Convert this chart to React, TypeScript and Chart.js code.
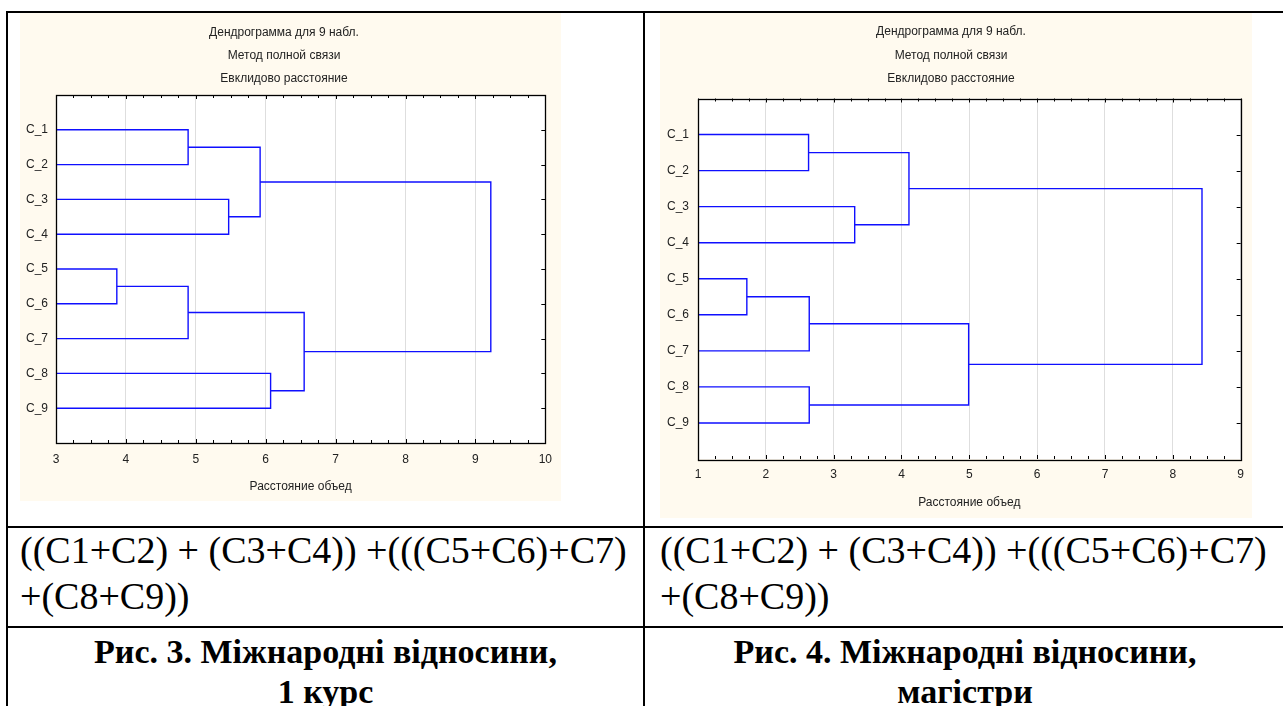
import React, { useEffect, useRef } from 'react';
import { Chart, registerables } from 'chart.js';

Chart.register(...registerables);

// ---------- data ----------
const leafLabels = ['C_1', 'C_2', 'C_3', 'C_4', 'C_5', 'C_6', 'C_7', 'C_8', 'C_9'];
const titleLines = ['Дендрограмма для 9 набл.', 'Метод полной связи', 'Евклидово расстояние'];
const xAxisTitle = 'Расстояние объед';

// node ids: 0..8 = leaves C_1..C_9, 9.. = merges in order
const leftChildA = [4, 0, 9, 2, 10, 7, 11, 13];
const leftChildB = [5, 1, 6, 3, 12, 8, 14, 15];
const leftHeights = [3.87, 4.89, 4.89, 5.47, 5.92, 6.07, 6.55, 9.22];
const leftXRange = [3, 10];

const rightChildA = [4, 0, 9, 7, 2, 10, 11, 14];
const rightChildB = [5, 1, 6, 8, 3, 13, 12, 15];
const rightHeights = [1.72, 2.63, 2.64, 2.64, 3.31, 4.11, 4.99, 8.43];
const rightXRange = [1, 9];

const formulaLine1 = '((C1+C2) + (C3+C4)) +(((C5+C6)+C7)';
const formulaLine2 = '+(C8+C9))';
const captionLeft = ['Рис. 3. Міжнародні відносини,', '1 курс'];
const captionRight = ['Рис. 4. Міжнародні відносини,', 'магістри'];

// ---------- helpers ----------
const CREAM = '#FFFAEF';
const LINE = '#0f0fff';
const TXT = '#222222';
const FONT = "'Liberation Sans', Arial, sans-serif";

function buildLinks(childA: number[], childB: number[], heights: number[], base: number) {
  const pos: number[] = leafLabels.map((_, i) => i + 1);
  const hgt: number[] = leafLabels.map(() => base);
  return heights.map((h, j) => {
    const a = childA[j];
    const b = childB[j];
    const ya = pos[a];
    const yb = pos[b];
    const data = [
      { x: hgt[a], y: ya },
      { x: h, y: ya },
      { x: h, y: yb },
      { x: hgt[b], y: yb },
    ];
    pos.push((ya + yb) / 2);
    hgt.push(h);
    return {
      data,
      showLine: true,
      borderColor: LINE,
      borderWidth: 1.4,
      pointRadius: 0,
      tension: 0,
      fill: false,
    };
  });
}

const framePlugin = {
  id: 'dendroFrame',
  beforeDraw(chart: any) {
    const { ctx, chartArea, width, height } = chart;
    ctx.save();
    ctx.fillStyle = CREAM;
    ctx.fillRect(0, 0, width, height);
    ctx.fillStyle = '#ffffff';
    ctx.fillRect(chartArea.left, chartArea.top, chartArea.right - chartArea.left, chartArea.bottom - chartArea.top);
    ctx.restore();
  },
  afterDraw(chart: any) {
    const { ctx, chartArea } = chart;
    const xs = chart.scales.x;
    const ys = chart.scales.y;
    ctx.save();
    ctx.strokeStyle = '#000';
    ctx.lineWidth = 1;
    ctx.beginPath();
    // minor / major ticks on top and bottom edges (inside)
    for (let v = xs.min; v <= xs.max + 1e-9; v += 0.25) {
      const px = Math.round(xs.getPixelForValue(v)) + 0.5;
      const len = Math.abs(v - Math.round(v)) < 1e-9 ? 4 : 3;
      ctx.moveTo(px, chartArea.top);
      ctx.lineTo(px, chartArea.top + len);
      ctx.moveTo(px, chartArea.bottom);
      ctx.lineTo(px, chartArea.bottom - len);
    }
    // ticks on right edge
    for (let i = 1; i <= leafLabels.length; i++) {
      const py = Math.round(ys.getPixelForValue(i)) + 0.5;
      ctx.moveTo(chartArea.right, py);
      ctx.lineTo(chartArea.right - 4, py);
    }
    ctx.stroke();
    ctx.lineWidth = 1.3;
    ctx.strokeRect(
      Math.round(chartArea.left) + 0.5,
      Math.round(chartArea.top) + 0.5,
      Math.round(chartArea.right - chartArea.left),
      Math.round(chartArea.bottom - chartArea.top)
    );
    ctx.restore();
  },
};

type Layout = {
  width: number;
  height: number;
  yAxisWidth: number;
  xAxisHeight: number;
  rightPad: number;
  titlePadTop: number;
  titlePadBottom: number;
  titleLineHeight: number;
  xTickPad: number;
  yTickPad: number;
  xTitlePadBottom: number;
};

function Dendrogram(props: {
  childA: number[];
  childB: number[];
  heights: number[];
  xRange: number[];
  layout: Layout;
}) {
  const ref = useRef<HTMLCanvasElement | null>(null);
  const { childA, childB, heights, xRange, layout } = props;
  useEffect(() => {
    if (!ref.current) return;
    const chart = new Chart(ref.current, {
      type: 'scatter',
      data: { datasets: buildLinks(childA, childB, heights, xRange[0]) as any },
      options: {
        animation: false,
        responsive: false,
        events: [],
        layout: { padding: { left: 0, right: layout.rightPad, top: 0, bottom: 0 } },
        plugins: {
          legend: { display: false },
          tooltip: { enabled: false },
          title: {
            display: true,
            text: titleLines,
            color: TXT,
            font: { family: FONT, size: 12, weight: 'normal', lineHeight: layout.titleLineHeight / 12 },
            padding: { top: layout.titlePadTop, bottom: layout.titlePadBottom },
          },
        },
        scales: {
          x: {
            type: 'linear',
            min: xRange[0],
            max: xRange[1],
            ticks: {
              stepSize: 1,
              color: TXT,
              font: { family: FONT, size: 12 },
              padding: layout.xTickPad,
            },
            grid: { color: '#dedede', lineWidth: 1, drawTicks: false },
            border: { display: false },
            title: {
              display: true,
              text: xAxisTitle,
              color: TXT,
              font: { family: FONT, size: 12 },
              padding: { top: 0, bottom: layout.xTitlePadBottom },
            },
            afterFit: (s: any) => {
              s.height = layout.xAxisHeight;
            },
          },
          y: {
            type: 'linear',
            reverse: true,
            min: 0,
            max: leafLabels.length + 1,
            ticks: {
              stepSize: 1,
              autoSkip: false,
              color: TXT,
              font: { family: FONT, size: 12 },
              padding: layout.yTickPad,
              callback: (v: any) => leafLabels[Number(v) - 1] ?? '',
            },
            grid: { display: false, drawTicks: false },
            border: { display: false },
            afterFit: (s: any) => {
              s.width = layout.yAxisWidth;
            },
          },
        },
      } as any,
      plugins: [framePlugin],
    });
    return () => chart.destroy();
  }, []);
  return <canvas ref={ref} width={layout.width} height={layout.height} style={{ display: 'block' }} />;
}

const leftLayout: Layout = {
  width: 541,
  height: 488,
  yAxisWidth: 36,
  xAxisHeight: 58,
  rightPad: 13,
  titlePadTop: 8,
  titlePadBottom: 5,
  titleLineHeight: 23,
  xTickPad: 9,
  yTickPad: 8,
  xTitlePadBottom: 7,
};

const rightLayout: Layout = {
  width: 592,
  height: 505,
  yAxisWidth: 38,
  xAxisHeight: 59,
  rightPad: 10,
  titlePadTop: 7,
  titlePadBottom: 8,
  titleLineHeight: 23.5,
  xTickPad: 8,
  yTickPad: 9,
  xTitlePadBottom: 8,
};

const line = (s: React.CSSProperties): React.CSSProperties => ({ position: 'absolute', background: '#000', ...s });

const serif = "'Liberation Serif', 'Times New Roman', serif";

export default function App() {
  return (
    <div
      style={{
        position: 'absolute',
        left: 0,
        top: 0,
        width: 1283,
        height: 706,
        background: '#fff',
        overflow: 'hidden',
      }}
    >
      <div style={{ position: 'absolute', left: 20, top: 13 }}>
        <Dendrogram childA={leftChildA} childB={leftChildB} heights={leftHeights} xRange={leftXRange} layout={leftLayout} />
      </div>
      <div style={{ position: 'absolute', left: 660, top: 13 }}>
        <Dendrogram childA={rightChildA} childB={rightChildB} heights={rightHeights} xRange={rightXRange} layout={rightLayout} />
      </div>

      {/* table lines */}
      <div style={line({ left: 6, top: 11, width: 1277, height: 2 })} />
      <div style={line({ left: 6, top: 11, width: 2, height: 695 })} />
      <div style={line({ left: 643, top: 11, width: 2, height: 695 })} />
      <div style={line({ left: 6, top: 526, width: 1277, height: 2 })} />
      <div style={line({ left: 6, top: 626, width: 1277, height: 2 })} />

      {/* formula row */}
      {[20, 660].map((x, i) => (
        <div
          key={'f' + i}
          style={{
            position: 'absolute',
            left: x,
            top: 527,
            fontFamily: serif,
            fontSize: 38,
            lineHeight: '46px',
            color: '#000',
            whiteSpace: 'nowrap',
          }}
        >
          <div>{formulaLine1}</div>
          <div>{formulaLine2}</div>
        </div>
      ))}

      {/* caption row */}
      {[
        { x: 8, w: 635, lines: captionLeft },
        { x: 645, w: 640, lines: captionRight },
      ].map((c, i) => (
        <div
          key={'c' + i}
          style={{
            position: 'absolute',
            left: c.x,
            width: c.w,
            top: 632,
            fontFamily: serif,
            fontWeight: 'bold',
            fontSize: 34,
            lineHeight: '40px',
            textAlign: 'center',
            color: '#000',
            whiteSpace: 'nowrap',
          }}
        >
          {c.lines.map((l, k) => (
            <div key={k}>{l}</div>
          ))}
        </div>
      ))}
    </div>
  );
}
